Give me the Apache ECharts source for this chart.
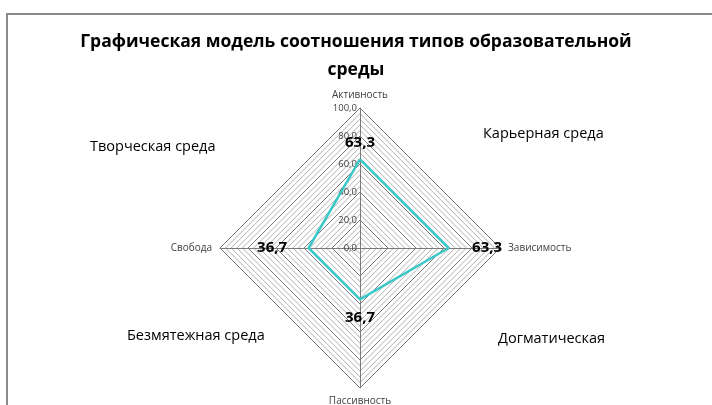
<!DOCTYPE html>
<html><head><meta charset="utf-8">
<script src="https://cdn.jsdelivr.net/npm/echarts@6/dist/echarts.min.js"></script>
<style>html,body{margin:0;padding:0;background:#fff}#c{width:712px;height:405px}</style>
</head><body><div id="c"></div>
<script>
const titleText = 'Графическая модель соотношения типов образовательной\nсреды';
const indicators = ['Активность', 'Свобода', 'Пассивность', 'Зависимость'];
const values = [63.3, 36.7, 36.7, 63.3];
const maxValue = 100;
const tickValues = [0, 20, 40, 60, 80, 100];
const quadrantLabels = ['Творческая среда', 'Карьерная среда', 'Безмятежная среда', 'Догматическая'];

const font = 'Open Sans';
const fmt = v => v.toFixed(1).replace('.', ',');
const splitColors = ['#7a7a7a', '#b0b0b0', '#b0b0b0', '#b0b0b0', '#b0b0b0'];
const labelPos = [['top', 9], ['left', 21], ['bottom', 10], ['right', 23]];

const chart = echarts.init(document.getElementById('c'));
const labelSeries = labelPos.map((p, k) => ({
  type: 'radar', z: 5, silent: true,
  symbol: 'circle', symbolSize: 1,
  itemStyle: { color: 'transparent' },
  lineStyle: { opacity: 0 },
  label: {
    show: true, position: p[0], distance: p[1],
    fontFamily: font, fontWeight: 'bold', fontSize: 15, color: '#000',
    formatter: params => (params.dimensionIndex === k ? fmt(values[k]) : '')
  },
  data: [{ value: values }]
}));

const qStyle = { fontFamily: font, fontWeight: 'normal', fontSize: 14.5, color: '#000' };

chart.setOption({
  animation: false,
  graphic: [{ type: 'rect', shape: { x: 7, y: 14, width: 800, height: 500 }, style: { fill: 'none', stroke: '#8a8a8a', lineWidth: 2 }, silent: true }],
  title: [
    { text: titleText, left: 'center', top: 23, textStyle: { fontFamily: font, fontWeight: 'bold', fontSize: 17.5, color: '#000', lineHeight: 28 } },
    { text: quadrantLabels[0], left: 85, top: 134, textStyle: qStyle },
    { text: quadrantLabels[1], left: 478, top: 121, textStyle: qStyle },
    { text: quadrantLabels[2], left: 122, top: 323, textStyle: qStyle },
    { text: quadrantLabels[3], left: 493, top: 326, textStyle: qStyle }
  ],
  grid: { left: 360, top: 108, width: 1, height: 140 },
  xAxis: { type: 'value', show: false },
  yAxis: {
    type: 'value', min: 0, max: maxValue, interval: 20,
    axisLine: { show: false }, axisTick: { show: false }, splitLine: { show: false },
    axisLabel: { margin: 3, fontFamily: font, fontSize: 9.5, color: '#404040', formatter: v => tickValues.includes(v) ? fmt(v) : '' }
  },
  radar: {
    center: [360, 248], radius: 140, startAngle: 90, shape: 'polygon', splitNumber: 25,
    indicator: indicators.map(n => ({ name: n, min: 0, max: maxValue })),
    axisName: { fontFamily: font, fontSize: 10, color: '#404040' },
    nameGap: 8,
    axisLine: { lineStyle: { color: '#7a7a7a', width: 1 } },
    splitLine: { lineStyle: { color: splitColors, width: 1 } },
    splitArea: { show: false }
  },
  series: [{
    type: 'radar', z: 3, symbol: 'none',
    lineStyle: { color: '#3cc8c8', width: 2.5 },
    data: [{ value: values }]
  }].concat(labelSeries)
});
</script></body></html>
